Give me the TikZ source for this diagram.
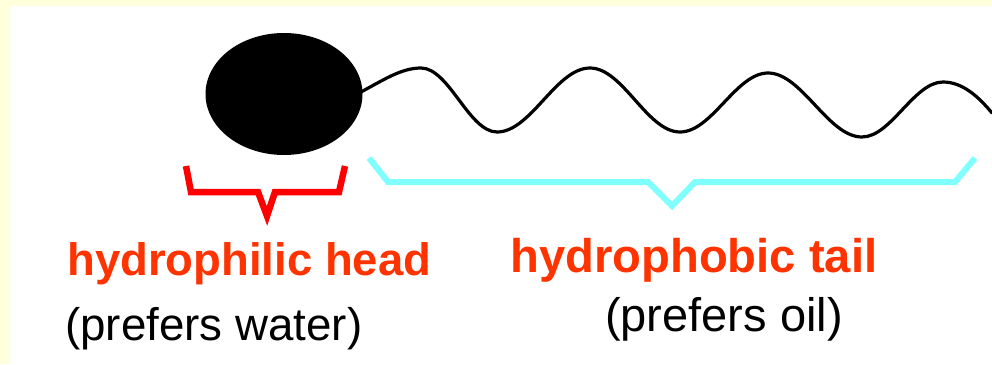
\documentclass[tikz,border=0pt]{standalone}
\usepackage{fontspec}
\setmainfont{Liberation Sans}
\usetikzlibrary{shapes.geometric}
\definecolor{bgyellow}{HTML}{FFFFDC}
\definecolor{labelred}{HTML}{FF3300}
\definecolor{bracketred}{HTML}{FF0000}
\definecolor{bracketcyan}{HTML}{80FFFF}
\tikzset{
  headshape/.style={ellipse, fill=black, draw=none, inner sep=0pt, minimum width=157pt, minimum height=122pt},
  tailline/.style={line width=3.2pt, black, line cap=round},
  redbrace/.style={line width=6.5pt, bracketred, miter limit=10},
  cyanbrace/.style={line width=6pt, bracketcyan, miter limit=10},
  titletext/.style={anchor=base west, inner sep=0pt, text=labelred, font=\bfseries},
  subtext/.style={anchor=base west, inner sep=0pt, text=black}
}
\begin{document}
\begin{tikzpicture}[x=1pt,y=-1pt]
\useasboundingbox (0,0) rectangle (992,364);
\fill[bgyellow] (0,0) rectangle (992,364);
\fill[white] (10,6) rectangle (1000,372);
% head
\node[headshape] (head) at (284,94) {};
% tail
\coordinate (tailstart) at (361,92);
\coordinate (tailend) at (992,113);
\draw[tailline] (tailstart)
  .. controls (385,79) and (402,68) .. (421,68)
  .. controls (449,68) and (469,132) .. (497,132)
  .. controls (531,132) and (556,68) .. (590,68)
  .. controls (623,68) and (647,132) .. (680,132)
  .. controls (712,132) and (736,73) .. (768,73)
  .. controls (802,73) and (828,137) .. (862,137)
  .. controls (891,137) and (914,82) .. (943,82)
  .. controls (962,82) and (978,96) .. (tailend);
% red bracket
\draw[redbrace] (186,166) -- (191,192) -- (258,192) -- (267,216) -- (275,192) -- (339,192) -- (345,166);
% cyan bracket
\draw[cyanbrace] (369,158) -- (388,182) -- (648,182) -- (672,206) -- (695,182) -- (955,182) -- (975,158);
% labels
\node[titletext, font=\bfseries\fontsize{45.5}{50}\selectfont] (philic) at (67,275) {hydrophilic head};
\node[subtext, font=\fontsize{45.7}{50}\selectfont] (water) at (65,340) {(prefers water)};
\node[titletext, font=\bfseries\fontsize{47.2}{52}\selectfont] (phobic) at (510,272) {hydrophobic tail};
\node[subtext, font=\fontsize{47}{52}\selectfont] (oil) at (605,331) {(prefers oil)};
\end{tikzpicture}
\end{document}
